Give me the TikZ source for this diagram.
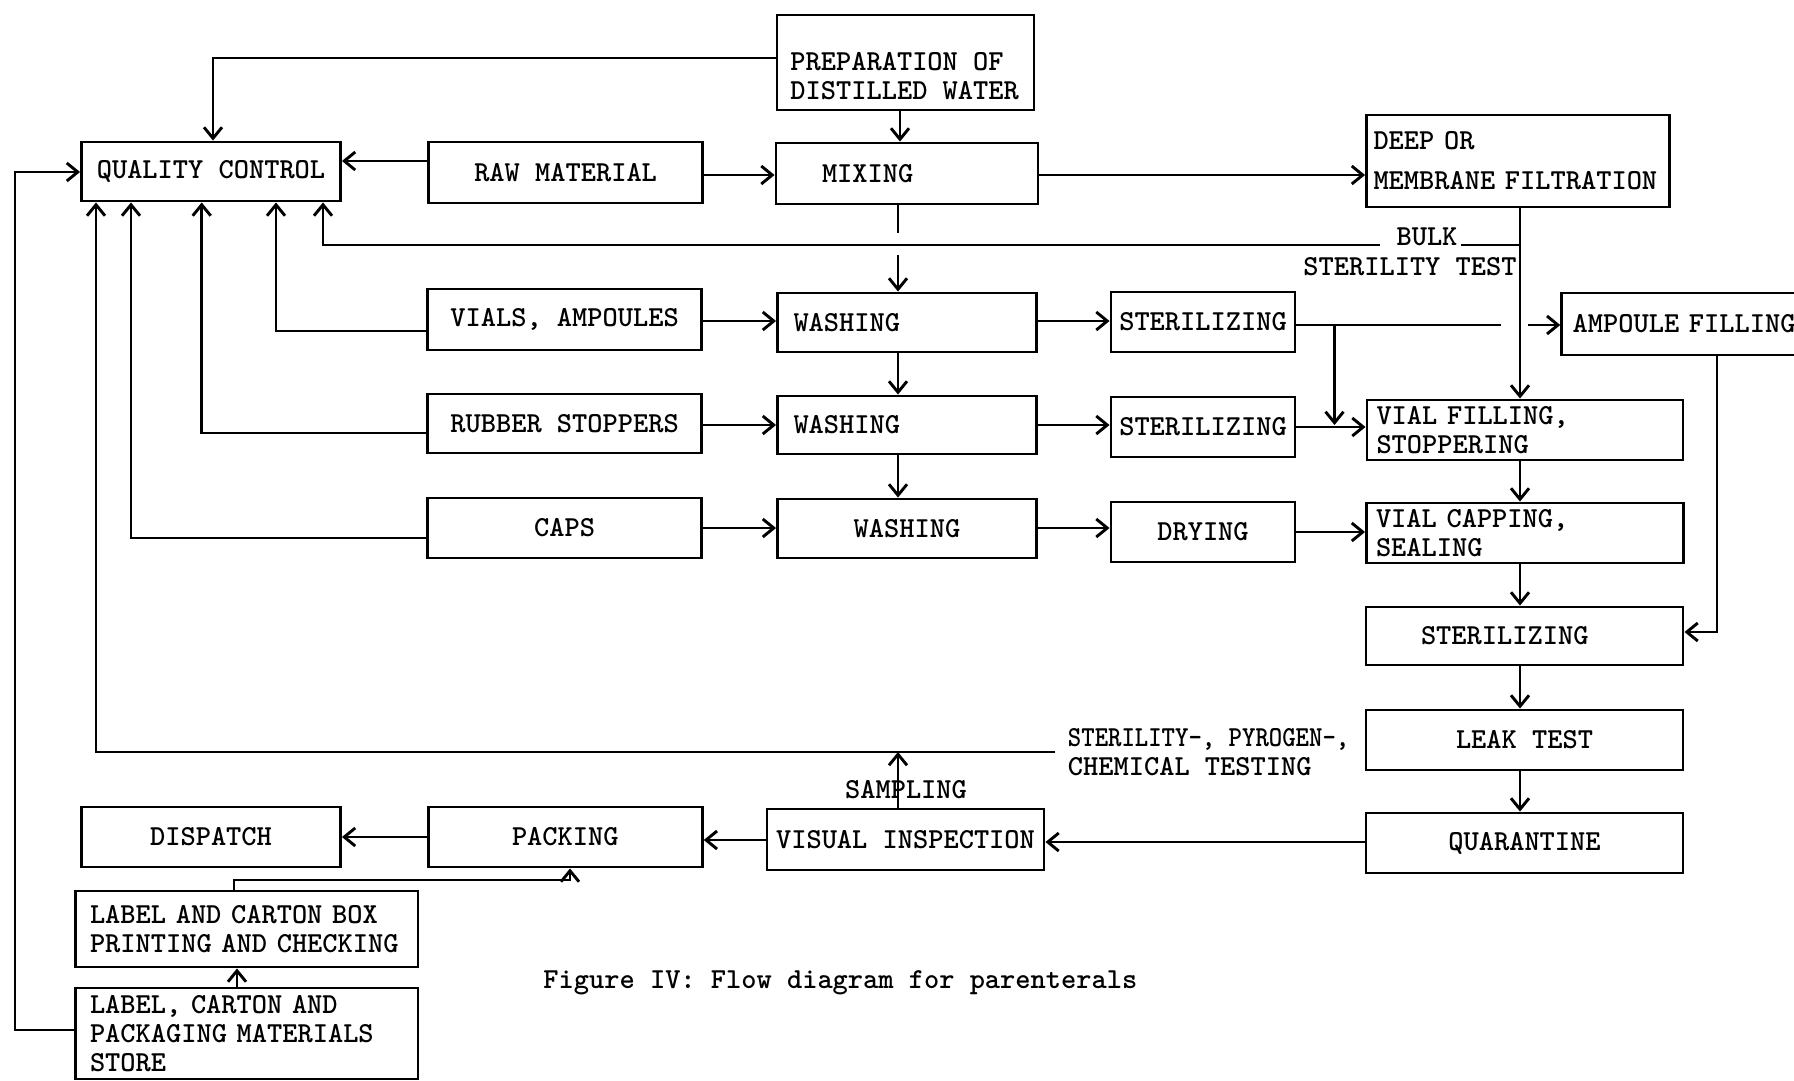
\documentclass[tikz,border=0pt]{standalone}
\usepackage{graphicx}
\usetikzlibrary{arrows.meta}
\newcommand{\boxfont}{\ttfamily\bfseries\fontsize{29}{29}\selectfont}
\begin{document}
\begin{tikzpicture}[x=1pt,y=-1pt, line width=2.9pt,
  bx/.style={draw, inner sep=0pt, font=\boxfont, align=center},
  lbx/.style n args={3}{draw, font=\boxfont, align=left, inner ysep=0pt,
     inner xsep=#2, text width=#3, minimum width=#1},
  txt/.style={font=\boxfont, inner sep=0pt},
  arr/.style={-{Straight Barb[length=11pt,width=18pt]}}]
\useasboundingbox (0,0) rectangle (1794,1080);
\fill[white] (0,0) rectangle (1794,1080);
\clip (0,0) rectangle (1794,1080);

% boxes
\node[bx, minimum width=259pt, minimum height=59pt] (qc) at (211,171.5) {QUALITY CONTROL};
\node[bx, minimum width=274pt, minimum height=61pt] (raw) at (565.6,172.5) {RAW MATERIAL};
\node[bx, minimum width=257pt, minimum height=95pt] (prep) at (905.5,62.5) {};
\node[txt, align=left, anchor=west] (preptxt) at (789,76) {PREPARATION OF\\DISTILLED WATER};
\node[lbx={262pt}{46pt}{170pt}, minimum height=61pt] (mix) at (907,173.5) {MIXING};
\node[lbx={303pt}{7pt}{289pt}, minimum height=92pt] (filt) at (1518,161) {DEEP OR\\[11pt]MEMBRANE FILTRATION};

\node[bx, minimum width=274pt, minimum height=61pt] (vials) at (564.6,319.5) {VIALS, AMPOULES};
\node[bx, minimum width=274pt, minimum height=59pt] (rubber) at (564.6,423.5) {RUBBER STOPPERS};
\node[bx, minimum width=274pt, minimum height=60pt] (caps) at (564.6,528) {CAPS};

\node[lbx={259pt}{16pt}{227pt}, minimum height=59pt] (wash1) at (907,322.5) {WASHING};
\node[lbx={259pt}{16pt}{227pt}, minimum height=58pt] (wash2) at (907,425) {WASHING};
\node[bx, minimum width=259pt, minimum height=59pt] (wash3) at (907,528.5) {WASHING};

\node[bx, minimum width=184pt, minimum height=60pt] (ster1) at (1203,322) {STERILIZING};
\node[bx, minimum width=184pt, minimum height=60pt] (ster2) at (1203,427) {STERILIZING};
\node[bx, minimum width=184pt, minimum height=60pt] (dry) at (1203,532) {DRYING};

\node[lbx={250pt}{11pt}{228pt}, minimum height=62pt] (ampf) at (1686.7,324) {AMPOULE FILLING};
\node[lbx={316pt}{9.5pt}{297pt}, minimum height=60pt] (vfill) at (1525,430) {VIAL FILLING,\\STOPPERING};
\node[lbx={317pt}{9.5pt}{298pt}, minimum height=60pt] (vcap) at (1525,533) {VIAL CAPPING,\\SEALING};
\node[lbx={317pt}{55pt}{207pt}, minimum height=58pt] (ster3) at (1524.5,636) {STERILIZING};
\node[bx, minimum width=317pt, minimum height=60pt] (leak) at (1524.5,740) {LEAK TEST};
\node[bx, minimum width=317pt, minimum height=60pt] (quar) at (1524.5,843) {QUARANTINE};

\node[bx, minimum width=277pt, minimum height=61pt] (visual) at (905.5,839.5) {VISUAL INSPECTION};
\node[bx, minimum width=274pt, minimum height=60pt] (pack) at (565.3,837) {PACKING};
\node[bx, minimum width=259pt, minimum height=60pt] (disp) at (211,837) {DISPATCH};
\node[lbx={342.6pt}{14.6pt}{313.4pt}, minimum height=76pt] (lblp) at (246.7,929) {LABEL AND CARTON BOX\\PRINTING AND CHECKING};
\node[lbx={342.6pt}{14.6pt}{313.4pt}, minimum height=91pt] (store) at (246.7,1033.5) {LABEL, CARTON AND\\PACKAGING MATERIALS\\STORE};

% free labels
\node[txt] (bulk) at (1427,237) {BULK};
\node[txt] (bulktest) at (1410,267) {STERILITY TEST};
\node[txt, align=left, anchor=west] (testlbl) at (1066.5,752.5) {\scalebox{0.88}[1]{STERILITY-, PYROGEN-,}\\CHEMICAL TESTING};
\node[txt] (samp) at (906,790) {SAMPLING};
\node[txt, anchor=west] (caption) at (542,983) {Figure IV: Flow diagram for parenterals};

% free-end coordinates
\coordinate (mixgapA) at (898,233);
\coordinate (mixgapB) at (898,255);
\coordinate (bulkStart) at (1520,245);
\coordinate (bulkA) at (1461,245);
\coordinate (bulkB) at (1380,245);
\coordinate (ampgapA) at (1501,325);
\coordinate (ampgapB) at (1528,325);
\coordinate (branch) at (1334.5,325);
\coordinate (branchEnd) at (1334.5,425);
\coordinate (testEnd) at (1055,752);
\coordinate (sampEnd) at (898,752);
\coordinate (lblBend) at (570,880);
\coordinate (outerTop) at (15,172);

% connectors top
\draw[arr] (prep.west |- 0,58) -| (qc.north -| 213,0);
\draw[arr] (raw.west |- 0,161) -- (qc.east |- 0,161);
\draw[arr] (raw.east |- 0,175) -- (mix.west |- 0,175);
\draw[arr] (prep.south -| 900,0) -- (mix.north -| 900,0);
\draw[arr] (mix.east |- 0,175) -- (filt.west |- 0,175);
\draw (mix.south -| 898,0) -- (mixgapA);
\draw[arr] (mixgapB) -- (wash1.north -| 898,0);
\draw[arr] (filt.south -| 1520,0) -- (vfill.north -| 1520,0);
\draw (bulkStart) -- (bulkA);
\draw[arr] (bulkB) -| (qc.south -| 323,0);

% sources to QC
\draw[arr] (vials.west |- 0,331) -| (qc.south -| 276,0);
\draw[arr] (rubber.west |- 0,433) -| (qc.south -| 201.7,0);
\draw[arr] (caps.west |- 0,538) -| (qc.south -| 131,0);

% rows
\draw[arr] (vials.east |- 0,321) -- (wash1.west |- 0,321);
\draw[arr] (rubber.east |- 0,425) -- (wash2.west |- 0,425);
\draw[arr] (caps.east |- 0,528) -- (wash3.west |- 0,528);
\draw[arr] (wash1.east |- 0,321) -- (ster1.west |- 0,321);
\draw[arr] (wash2.east |- 0,425) -- (ster2.west |- 0,425);
\draw[arr] (wash3.east |- 0,528) -- (dry.west |- 0,528);
\draw[arr] (wash1.south -| 898,0) -- (wash2.north -| 898,0);
\draw[arr] (wash2.south -| 898,0) -- (wash3.north -| 898,0);

% right column
\draw (ster1.east |- 0,325) -- (ampgapA);
\draw[arr] (ampgapB) -- (ampf.west |- 0,325);
\draw[arr] (branch) -- (branchEnd);
\draw[arr] (ster2.east |- 0,427) -- (vfill.west |- 0,427);
\draw[arr] (dry.east |- 0,532) -- (vcap.west |- 0,532);
\draw[arr] (vfill.south -| 1520,0) -- (vcap.north -| 1520,0);
\draw[arr] (vcap.south -| 1520,0) -- (ster3.north -| 1520,0);
\draw[arr] (ster3.south -| 1520,0) -- (leak.north -| 1520,0);
\draw[arr] (leak.south -| 1520,0) -- (quar.north -| 1520,0);
\draw[arr] (ampf.south -| 1717,0) |- (ster3.east |- 0,632);

% bottom
\draw[arr] (quar.west |- 0,842) -- (visual.east |- 0,842);
\draw[arr] (visual.west |- 0,840) -- (pack.east |- 0,840);
\draw[arr] (pack.west |- 0,837) -- (disp.east |- 0,837);
\draw[arr] (testEnd) -| (qc.south -| 96,0);
\draw[arr] (visual.north -| 898,0) -- (sampEnd);
\draw[arr] (lblp.north -| 234,0) |- (lblBend) -- (pack.south -| 570,0);
\draw[arr] (store.north -| 237,0) -- (lblp.south -| 237,0);
\draw[arr] (store.west |- 0,1030) -| (outerTop) -- (qc.west |- 0,172);
\end{tikzpicture}
\end{document}
